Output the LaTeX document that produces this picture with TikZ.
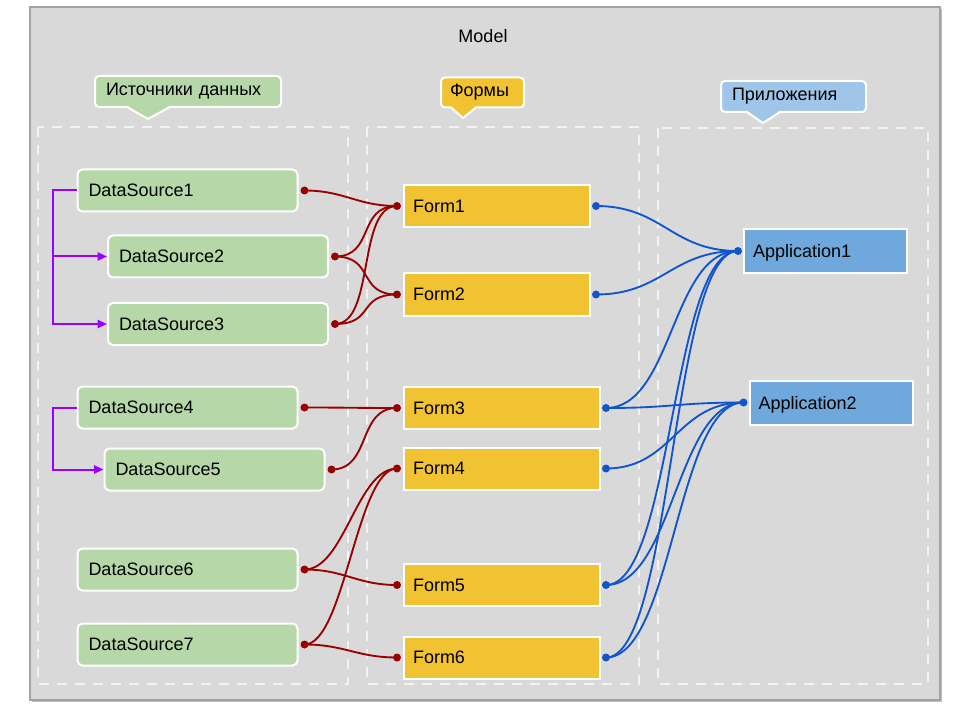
\documentclass[tikz,border=0pt]{standalone}
\usepackage{fontspec}
\setmainfont{Liberation Sans}
\usetikzlibrary{arrows.meta}
\definecolor{bgC}{HTML}{D9D9D9}
\definecolor{frameC}{HTML}{A3A3A3}
\definecolor{shadowC}{HTML}{BDBDBD}
\definecolor{dashC}{HTML}{F3F3F3}
\definecolor{dsC}{HTML}{B6D7A8}
\definecolor{formC}{HTML}{F1C232}
\definecolor{appC}{HTML}{6FA8DC}
\definecolor{calloutB}{HTML}{9FC5E8}
\definecolor{redC}{HTML}{990000}
\definecolor{blueC}{HTML}{1155CC}
\definecolor{purpC}{HTML}{9900FF}
\begin{document}
\begin{tikzpicture}[x=0.75pt,y=-0.75pt,
  every node/.style={font=\fontsize{13.5}{16}\selectfont},
  nbox/.style={draw=white, line width=1.5pt, minimum height=31.5pt, inner ysep=0pt, align=left, text depth=0pt},
  ds/.style={nbox, fill=dsC, rounded corners=3.75pt, text width=148.5pt, inner xsep=8.25pt},
  formA/.style={nbox, fill=formC, text width=126pt, inner xsep=6.75pt},
  formB/.style={nbox, fill=formC, text width=133.5pt, inner xsep=6.75pt},
  app/.style={nbox, fill=appC, minimum height=33pt, text width=108.75pt, inner xsep=6.75pt},
  callout/.style={draw=white, line width=1.5pt, rounded corners=3pt, minimum height=23.25pt, inner ysep=0pt, align=left},
  colbox/.style={dashC, line width=1.6pt, dash pattern=on 7.5pt off 6pt},
  rline/.style={redC, line width=1.4pt},
  bline/.style={blueC, line width=1.4pt},
  pline/.style={purpC, line width=1.5pt, -{Triangle[length=7pt,width=6pt]}},
  ptr/.style={draw=white, line width=1.5pt, line join=round}
]
\useasboundingbox (0,0) rectangle (960,720);
% outer frame
\fill[shadowC] (32,9) rectangle (942,702);
\draw[frameC, line width=1.5pt, fill=bgC] (30,7) rectangle (940,700);
\node (model) at (483,36) {Model};
% columns
\draw[colbox] (38,127) rectangle (348,684);
\draw[colbox] (367,127) rectangle (639,684);
\draw[colbox] (658,128) rectangle (928,684);
% callouts
\node[callout, fill=dsC, text width=123pt, inner xsep=8.25pt] (c1) at (188,91.5) {Источники данных};
\fill[dsC] (127,105.5) -- (148,119) -- (170,105.5) -- cycle;
\draw[ptr] (127,107) -- (148,119) -- (170,107);
\node[callout, fill=formC, text width=48.75pt, inner xsep=6.75pt, minimum height=22.5pt] (c2) at (482.5,92.5) {Формы};
\fill[formC] (451,106) -- (463,118) -- (476,106) -- cycle;
\draw[ptr] (451,107.5) -- (463,118) -- (476,107.5);
\node[callout, fill=calloutB, text width=92.25pt, inner xsep=8.25pt] (c3) at (793.5,96.5) {Приложения};
\fill[calloutB] (747,110.5) -- (763,123) -- (780,110.5) -- cycle;
\draw[ptr] (747,112) -- (763,123) -- (780,112);
% data sources
\node[ds] (ds1) at (187.5,190.5) {DataSource1};
\node[ds] (ds2) at (218,256.5) {DataSource2};
\node[ds] (ds3) at (218,324) {DataSource3};
\node[ds] (ds4) at (187.5,407.5) {DataSource4};
\node[ds] (ds5) at (214.5,469.5) {DataSource5};
\node[ds] (ds6) at (187.5,569.5) {DataSource6};
\node[ds] (ds7) at (187.5,644.5) {DataSource7};
% forms
\node[formA] (f1) at (497,206) {Form1};
\node[formA] (f2) at (497,294.5) {Form2};
\node[formB] (f3) at (502,408) {Form3};
\node[formB] (f4) at (502,468.5) {Form4};
\node[formB] (f5) at (502,585) {Form5};
\node[formB] (f6) at (502,657.5) {Form6};
% applications
\node[app] (a1) at (825.5,251) {Application1};
\node[app] (a2) at (831,402.5) {Application2};
% connection points
\foreach \n in {1,...,7} {\coordinate (ds\n o) at ([xshift=4.5pt]ds\n.east);}
\foreach \n in {1,...,6} {
  \coordinate (f\n i) at ([xshift=-4.5pt]f\n.west);
  \coordinate (f\n o) at ([xshift=3.75pt]f\n.east);}
\coordinate (a1i) at ([xshift=-3.75pt]a1.west);
\coordinate (a2i) at ([xshift=-3.75pt]a2.west);
% purple
\coordinate (pj1) at ([xshift=-18pt]ds1.west);
\coordinate (pj2) at ([xshift=-18pt]ds4.west);
\draw[pline] (ds1.west) -- (pj1) |- (ds3.west);
\draw[pline] (pj1) |- (ds2.west);
\draw[pline] (ds4.west) -- (pj2) |- (ds5.west);
% red connectors
\foreach \a/\b in {ds1o/f1i, ds2o/f1i, ds2o/f2i, ds3o/f1i, ds3o/f2i, ds4o/f3i, ds5o/f3i, ds6o/f4i, ds6o/f5i, ds7o/f4i, ds7o/f6i}
  {\draw[rline] (\a) to[out=0,in=180,distance=30pt] (\b);}
% blue connectors
\foreach \a/\b in {f1o/a1i, f2o/a1i, f3o/a1i, f3o/a2i, f4o/a2i, f5o/a1i, f5o/a2i, f6o/a1i, f6o/a2i}
  {\draw[bline] (\a) to[out=0,in=180,distance=50pt] (\b);}
% dots
\foreach \c in {ds1o,ds2o,ds3o,ds4o,ds5o,ds6o,ds7o,f1i,f2i,f3i,f4i,f5i,f6i}
  {\fill[redC] (\c) circle (3pt);}
\foreach \c in {f1o,f2o,f3o,f4o,f5o,f6o,a1i,a2i}
  {\fill[blueC] (\c) circle (3pt);}
\end{tikzpicture}
\end{document}
